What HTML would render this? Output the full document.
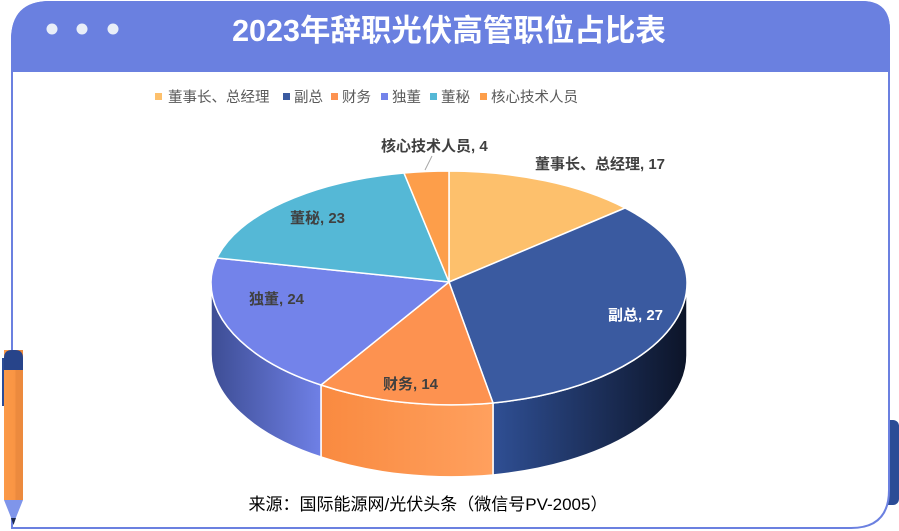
<!DOCTYPE html>
<html><head><meta charset="utf-8"><style>
body{margin:0;width:899px;height:531px;overflow:hidden;background:#fff;font-family:"Liberation Sans","Noto Sans CJK SC",sans-serif}
</style></head><body>
<svg width="899" height="531" xmlns="http://www.w3.org/2000/svg" style="position:absolute;left:0;top:0">
<defs>
<linearGradient id="gB" x1="0" x2="1" y1="0" y2="0"><stop offset="0" stop-color="#2f4f94"/><stop offset="1" stop-color="#0c1428"/></linearGradient>
<linearGradient id="gO" x1="0" x2="1" y1="0" y2="0"><stop offset="0" stop-color="#f98a40"/><stop offset="1" stop-color="#ffa05e"/></linearGradient>
<linearGradient id="gP" x1="0" x2="1" y1="0" y2="0"><stop offset="0" stop-color="#3d4d94"/><stop offset="1" stop-color="#6f80e6"/></linearGradient>
<linearGradient id="pen" x1="0" x2="1"><stop offset="0" stop-color="#fb9a48"/><stop offset="0.6" stop-color="#f99443"/><stop offset="0.6" stop-color="#ec8a3e"/><stop offset="1" stop-color="#ec8a3e"/></linearGradient>
</defs>
<rect x="880" y="420" width="19" height="85" rx="6" fill="#2b4c96"/>
<path d="M12,528 L12,40 Q12,2 50,2 L862,2 Q889,2 889,30 L889,490 Q889,528 851,528 Z" fill="#fff" stroke="#6b80e0" stroke-width="2"/>
<path d="M11,72 L11,40 Q11,1 50,1 L862,1 Q890,1 890,30 L890,72 Z" fill="#6a80e0"/>
<circle cx="52" cy="29" r="5.5" fill="#e8eef8"/><circle cx="82" cy="29" r="5.5" fill="#e8eef8"/><circle cx="113" cy="29" r="5.5" fill="#e8eef8"/>
<text x="449" y="41" text-anchor="middle" font-size="30.5" font-weight="bold" fill="#fff">2023年辞职光伏高管职位占比表</text>
<g font-size="14.5" fill="#595959">
<rect x="155" y="93" width="7" height="7" fill="#fdc06c"/><text x="168" y="102">董事长、总经理</text>
<rect x="283" y="93" width="7" height="7" fill="#3a5aa0"/><text x="294" y="102">副总</text>
<rect x="331" y="93" width="7" height="7" fill="#fd9250"/><text x="342" y="102">财务</text>
<rect x="381" y="93" width="7" height="7" fill="#7383ea"/><text x="392" y="102">独董</text>
<rect x="430" y="93" width="7" height="7" fill="#55b8d6"/><text x="441" y="102">董秘</text>
<rect x="480" y="93" width="7" height="7" fill="#fd9e4a"/><text x="491" y="102">核心技术人员</text>
</g>
<g stroke="#fff" stroke-width="1.5">
<path d="M687,282 A238,122 0 0 1 493,403 L493,475 A238,122 0 0 0 687,354 Z" fill="url(#gB)"/>
<path d="M493,403 A238,122 0 0 1 321,385 L321,457 A238,122 0 0 0 493,475 Z" fill="url(#gO)"/>
<path d="M321,385 A238,122 0 0 1 211,282 L211,354 A238,122 0 0 0 321,457 Z" fill="url(#gP)"/>
<path d="M449,282 L449,171 A238,111 0 0 1 625,208 Z" fill="#fdc06c"/>
<path d="M449,282 L625,208 A238,111 0 0 1 687,282 A238,122 0 0 1 493,403 Z" fill="#3a5aa0"/>
<path d="M449,282 L493,403 A238,122 0 0 1 321,385 Z" fill="#fd9250"/>
<path d="M449,282 L321,385 A238,122 0 0 1 211,282 A238,111 0 0 1 217,258 Z" fill="#7383ea"/>
<path d="M449,282 L217,258 A238,111 0 0 1 404,173 Z" fill="#55b8d6"/>
<path d="M449,282 L404,173 A238,111 0 0 1 449,171 Z" fill="#fd9e4a"/>
</g>
<line x1="432" y1="156" x2="425" y2="170" stroke="#a6a6a6"/>
<g font-size="15" font-weight="bold" fill="#404040">
<text x="535" y="169">董事长、总经理, 17</text>
<text x="608" y="320" fill="#fff">副总, 27</text>
<text x="383" y="389">财务, 14</text>
<text x="249" y="304">独董, 24</text>
<text x="290" y="223">董秘, 23</text>
<text x="381" y="151">核心技术人员, 4</text>
</g>
<text x="428" y="510" text-anchor="middle" font-size="17" fill="#000">来源：国际能源网/光伏头条（微信号PV-2005）</text>
<rect x="2" y="358" width="4" height="48" fill="#2b4c96"/>
<rect x="4" y="350" width="19" height="150" fill="url(#pen)"/>
<path d="M4,358 Q4,350 12,350 L15,350 Q23,350 23,358 L23,370 L4,370 Z" fill="#27448a"/>
<path d="M4,500 L23,500 L15,520 L12,520 Z" fill="#7f95ea"/>
<path d="M11,518 L16,518 L13.5,525 Z" fill="#1c2a50"/>
</svg>
</body></html>
